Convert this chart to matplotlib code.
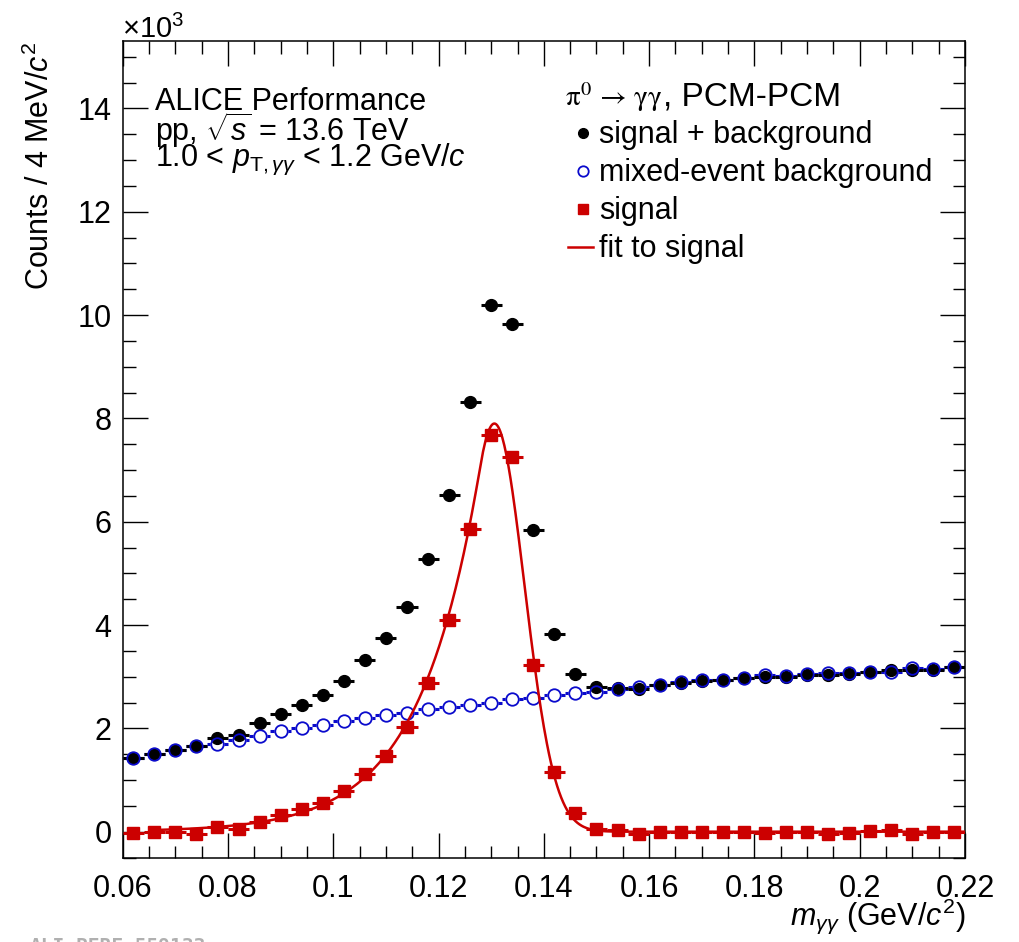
import numpy as np
import matplotlib
matplotlib.use("Agg")
import matplotlib.pyplot as plt
from matplotlib.ticker import MultipleLocator

plt.rcParams['font.family'] = ['Liberation Sans', 'DejaVu Sans']
plt.rcParams['mathtext.fontset'] = 'custom'
plt.rcParams['mathtext.rm'] = 'Liberation Sans'
plt.rcParams['mathtext.it'] = 'Liberation Sans:italic'
plt.rcParams['mathtext.bf'] = 'Liberation Sans:bold'
plt.rcParams['mathtext.sf'] = 'Liberation Sans'

# invariant mass bins, 4 MeV wide, 0.06 - 0.22 GeV/c^2
bin_width = 0.004
mass = np.round(np.arange(0.062, 0.22, bin_width), 3)

# counts in units of 10^3
same_event = [1.43, 1.51, 1.59, 1.66, 1.82, 1.87, 2.11, 2.27, 2.46, 2.65,
              2.92, 3.33, 3.75, 4.34, 5.27, 6.52, 8.32, 10.19, 9.82, 5.84,
              3.82, 3.06, 2.81, 2.79, 2.77, 2.83, 2.88, 2.92, 2.93, 2.97,
              3.00, 3.00, 3.04, 3.04, 3.06, 3.10, 3.13, 3.12, 3.13, 3.18]
mixed_event = [1.43, 1.51, 1.58, 1.65, 1.70, 1.77, 1.86, 1.95, 2.00, 2.06,
               2.14, 2.20, 2.25, 2.30, 2.37, 2.42, 2.46, 2.50, 2.56, 2.58,
               2.65, 2.68, 2.71, 2.77, 2.80, 2.84, 2.89, 2.93, 2.94, 2.98,
               3.03, 3.01, 3.05, 3.08, 3.08, 3.09, 3.10, 3.16, 3.14, 3.18]
signal = [-0.03, -0.01, 0.00, -0.05, 0.10, 0.06, 0.19, 0.33, 0.44, 0.55,
          0.78, 1.11, 1.47, 2.02, 2.88, 4.10, 5.85, 7.68, 7.25, 3.23,
          1.16, 0.37, 0.06, 0.03, -0.05, -0.01, -0.01, -0.01, -0.01, -0.01,
          -0.03, -0.01, -0.01, -0.04, -0.02, 0.01, 0.03, -0.04, -0.01, 0.00]

# fit: gaussian with exponential tail on the low-mass side
fit_amp = 7.9
fit_mean = 0.1306
fit_sigma = 0.0057
fit_lambda = 0.0115
fit_lo, fit_hi = 0.066, 0.22


def peak_fn(x):
    u = (x - fit_mean) / fit_sigma
    alpha = fit_sigma / fit_lambda
    return fit_amp * np.where(u > -alpha, np.exp(-0.5 * u ** 2),
                              np.exp(0.5 * alpha ** 2 + alpha * u))


W, H = 1020, 942
fig = plt.figure(figsize=(W / 100, H / 100), dpi=100)
ax = fig.add_axes([122.7 / W, 1 - 858.3 / H, (965 - 122.7) / W, (858.3 - 40.7) / H])


def fx(px):
    return px / W


def fy(py):
    return 1 - py / H


red = '#cc0000'
blue = '#0a0acc'

# mixed event: bars + white-filled circles underneath, rings on top
ax.errorbar(mass, mixed_event, xerr=bin_width / 2, fmt='none', ecolor=blue,
            elinewidth=2.2, capsize=0, zorder=2)
ax.plot(mass, mixed_event, 'o', mfc='white', mec='white', ms=9, zorder=2.5)
ax.errorbar(mass, same_event, xerr=bin_width / 2, fmt='o', color='black',
            ms=8.5, elinewidth=2.2, capsize=0, zorder=3)
ax.plot(mass, mixed_event, 'o', mfc='none', mec=blue, mew=1.3, ms=9, zorder=4)

xf = np.linspace(fit_lo, fit_hi, 800)
ax.plot(xf, peak_fn(xf), color=red, lw=1.8, zorder=5)
ax.errorbar(mass, signal, xerr=bin_width / 2, fmt='s', color=red,
            ms=8, elinewidth=2.2, capsize=0, zorder=6)

ax.set_xlim(0.06, 0.22)
ax.set_ylim(-0.515, 15.31)
ax.xaxis.set_minor_locator(MultipleLocator(0.005))
ax.yaxis.set_minor_locator(MultipleLocator(0.5))
ax.set_xticks([0.06, 0.08, 0.10, 0.12, 0.14, 0.16, 0.18, 0.20, 0.22])
ax.set_xticklabels(['0.06', '0.08', '0.1', '0.12', '0.14', '0.16', '0.18', '0.2', '0.22'])
ax.set_yticks([0, 2, 4, 6, 8, 10, 12, 14])
ax.set_yticklabels(['0', '2', '4', '6', '8', '10', '12', '14'])
ax.tick_params(which='both', direction='in', top=True, right=True, width=1.0,
               labelsize=22)
ax.tick_params(which='major', length=18)
ax.tick_params(which='minor', length=9)
ax.tick_params(axis='x', pad=11)
ax.tick_params(axis='y', pad=8)
for sp in ax.spines.values():
    sp.set_linewidth(1.1)

fig.text(fx(122), fy(29), r'$\times$10$^{3}$', fontsize=21, ha='left', va='center')
fig.text(fx(40), fy(42), r'Counts / 4 MeV/$c^{2}$', fontsize=22, rotation=90,
         ha='center', va='top')
fig.text(fx(965), fy(916), r'$m_{\gamma\gamma}$ (GeV/$c^{2}$)', fontsize=22,
         ha='right', va='center')

# ALICE label
fs = 22
fig.text(fx(155), fy(110), 'ALICE Performance', fontsize=fs, va='baseline')
fig.text(fx(155), fy(141), r'pp, $\sqrt{s}$ = 13.6 TeV', fontsize=fs, va='baseline')
fig.text(fx(155), fy(166), r'1.0 < $p_{\mathrm{T},\gamma\gamma}$ < 1.2 GeV/$c$',
         fontsize=fs, va='baseline')

# legend
fig.text(fx(565), fy(106), r'$\mathrm{\pi}^{0}\,\rightarrow\,\mathrm{\gamma\gamma}$',
         fontsize=21, va='baseline', math_fontfamily='stix')
fig.text(fx(663), fy(106), ', PCM-PCM', fontsize=24, va='baseline')
entries = [('signal + background', 142.5), ('mixed-event background', 180.5),
           ('signal', 218.5), ('fit to signal', 256.5)]
for label, base in entries:
    fig.text(fx(599), fy(base), label, fontsize=fs, va='baseline')
fig.lines.append(plt.Line2D([fx(583)], [fy(133)], marker='o', color='black',
                            ms=7, transform=fig.transFigure, figure=fig))
fig.lines.append(plt.Line2D([fx(583)], [fy(171)], marker='o', mfc='white', mec=blue,
                            mew=1.3, ms=7.5, transform=fig.transFigure, figure=fig))
fig.lines.append(plt.Line2D([fx(583)], [fy(209)], marker='s', color=red,
                            ms=6.5, transform=fig.transFigure, figure=fig))
fig.lines.append(plt.Line2D([fx(568), fx(593)], [fy(247), fy(247)], color=red,
                            lw=1.8, transform=fig.transFigure, figure=fig))

fig.text(fx(30), fy(946), 'ALI-PERF-559133', fontsize=14, color='#b0b0b0',
         family='DejaVu Sans Mono', weight='bold', va='center')

fig.savefig('out.png', dpi=100)
